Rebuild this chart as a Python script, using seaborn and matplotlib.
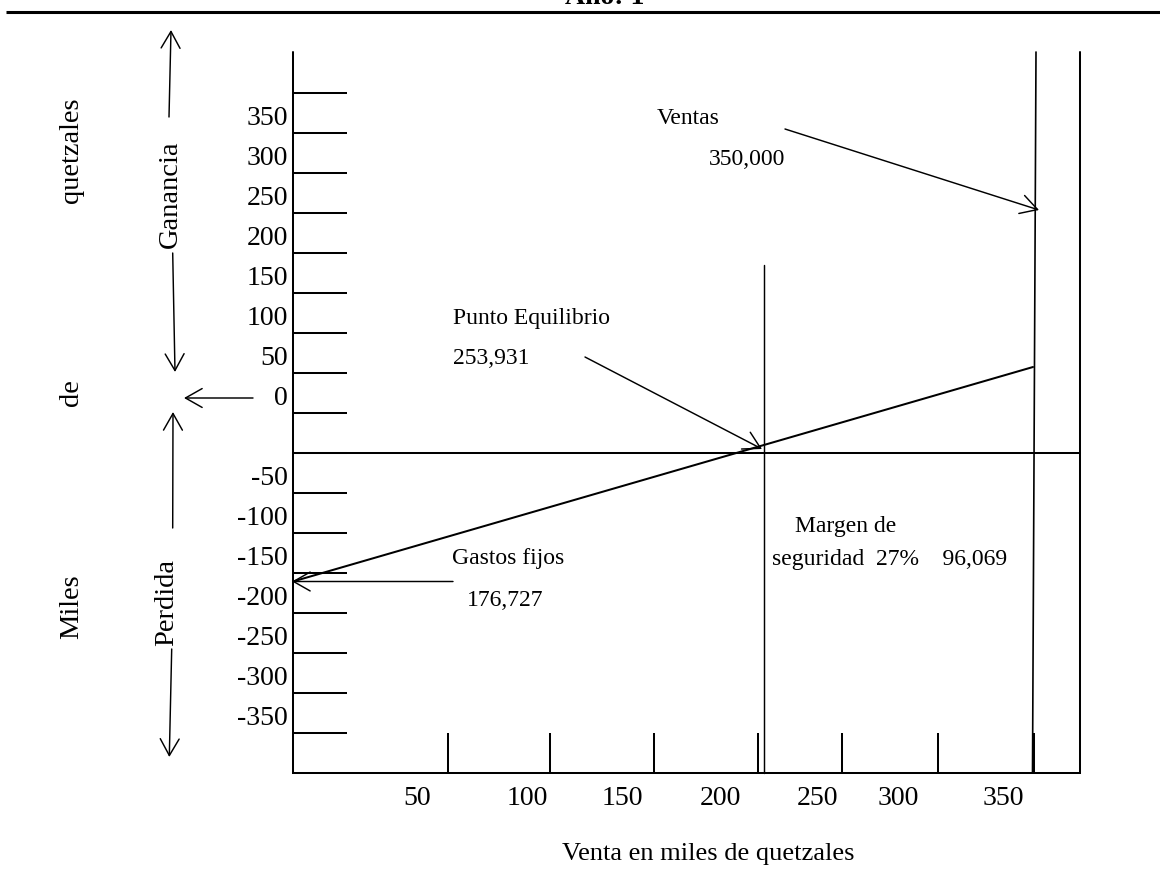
import matplotlib
matplotlib.use("Agg")
import matplotlib.pyplot as plt
import seaborn as sns
from matplotlib.patches import ArrowStyle

sns.set_theme(style="white")
plt.rcParams['font.family'] = ['Liberation Serif', 'DejaVu Serif']
plt.rcParams['text.color'] = 'black'

# ---------------- data ----------------
title = "Año: 1"
x_label = "Venta en miles de quetzales"
y_label_words = ["quetzales", "de", "Miles"]
gain_label = "Ganancia"
loss_label = "Perdida"
x_tick_values = [50, 100, 150, 200, 250, 300, 350]
y_tick_values_gain = [350, 300, 250, 200, 150, 100, 50, 0]
y_tick_values_loss = [-50, -100, -150, -200, -250, -300, -350]
sales = 350000
break_even = 253931
fixed_costs = 176727
safety_margin_pct = 27
safety_margin = 96069

# ---------------- layout (diagram units = pixels) ----------------
W, H = 1160, 888
F_LEFT, F_RIGHT, F_TOP, F_BOTTOM = 293, 1080, 52.5, 772.5
YTICK_FIRST, YTICK_STEP, YTICK_COUNT, YTICK_LEN = 93, 40, 17, 54
ZERO_Y = 453
XTICK_POS = [447.5, 549.5, 653.5, 758, 842, 938, 1033.5]
XTICK_LABEL_POS = [417, 527, 622, 720, 818, 898, 1003]
XTICK_TOP = 733
BE_X, BE_TOP = 764.3, 265
SALES_TOP = (1036, 52)
SALES_BOTTOM = (1032.5, 772.5)
PROFIT_X = [F_LEFT, 1033]
PROFIT_Y = [581.5, 367]

TICK_FS, ANN_FS, XLAB_FS, SIDE_FS = 20, 17, 19, 20.5
LW_FRAME, LW_THIN = 1.45, 1.05
K = 'black'

fig = plt.figure(figsize=(W / 100, H / 100), dpi=100)
ax = fig.add_axes([0, 0, 1, 1])
ax.set_xlim(0, W)
ax.set_ylim(H, 0)
ax.axis('off')


def arrow(start, tip, lw=LW_THIN):
    ax.annotate("", xy=tip, xytext=start,
                arrowprops=dict(arrowstyle=ArrowStyle("->", head_length=0.6, head_width=0.34),
                                mutation_scale=20, lw=lw, color=K,
                                shrinkA=0, shrinkB=0))


# top rule and title
ax.plot([6, W], [12, 12], color=K, lw=2.2, solid_capstyle='butt')
ax.text(605, 4, title, fontsize=20, fontweight='bold', ha='center', va='baseline', color=K)

# frame
ax.plot([F_LEFT, F_LEFT, F_RIGHT, F_RIGHT], [F_TOP, F_BOTTOM, F_BOTTOM, F_TOP - 0.5],
        color=K, lw=LW_FRAME, solid_joinstyle='miter')

# y ticks
ytick_pos = [YTICK_FIRST + YTICK_STEP * i for i in range(YTICK_COUNT)]
ax.hlines(ytick_pos, F_LEFT, F_LEFT + YTICK_LEN, color=K, lw=LW_FRAME)
# y tick labels (sit between tick marks)
for k, v in enumerate(y_tick_values_gain):
    ax.text(288, 125 + YTICK_STEP * k, f"{v}", fontsize=TICK_FS, ha='right', va='baseline', color=K)
for k, v in enumerate(y_tick_values_loss):
    ax.text(288, 485 + YTICK_STEP * k, f"{v}", fontsize=TICK_FS, ha='right', va='baseline', color=K)

# x ticks
ax.vlines(XTICK_POS, XTICK_TOP, F_BOTTOM, color=K, lw=LW_FRAME)
for xp, v in zip(XTICK_LABEL_POS, x_tick_values):
    ax.text(xp, 805, f"{v}", fontsize=TICK_FS, ha='center', va='baseline', color=K)

# zero-profit line, break-even vertical, sales vertical
ax.plot([F_LEFT, F_RIGHT], [ZERO_Y, ZERO_Y], color=K, lw=LW_FRAME)
ax.plot([BE_X, BE_X], [BE_TOP, F_BOTTOM], color=K, lw=LW_THIN)
ax.plot([SALES_TOP[0], SALES_BOTTOM[0]], [SALES_TOP[1], SALES_BOTTOM[1]], color=K, lw=1.2)

# profit line
sns.lineplot(x=PROFIT_X, y=PROFIT_Y, ax=ax, color=K, lw=LW_FRAME, sort=False)

# annotations
ax.text(657, 124, "Ventas", fontsize=ANN_FS, ha='left', va='baseline', color=K)
ax.text(709, 165, f"{sales:,}", fontsize=ANN_FS, ha='left', va='baseline', color=K)
arrow((785, 129), (1039, 210))

ax.text(453, 324, "Punto Equilibrio", fontsize=ANN_FS, ha='left', va='baseline', color=K)
ax.text(453, 364, f"{break_even:,}", fontsize=ANN_FS, ha='left', va='baseline', color=K)
arrow((585, 357), (762, 449))

ax.text(795, 531.5, "Margen de", fontsize=ANN_FS, ha='left', va='baseline', color=K)
ax.text(772, 564.5, f"seguridad  {safety_margin_pct}%    {safety_margin:,}",
        fontsize=ANN_FS, ha='left', va='baseline', color=K)

ax.text(452, 564, "Gastos fijos", fontsize=ANN_FS, ha='left', va='baseline', color=K)
ax.text(467, 606, f"{fixed_costs:,}", fontsize=ANN_FS, ha='left', va='baseline', color=K)
arrow((453, 581.5), (292, 581.5))

# left side labels
for word, yc in zip(y_label_words, [150, 393, 607]):
    ax.text(78, yc, word, fontsize=SIDE_FS, rotation=90, rotation_mode='anchor',
            ha='center', va='baseline', color=K)
ax.text(176.7, 194, gain_label, fontsize=SIDE_FS, rotation=90, rotation_mode='anchor',
        ha='center', va='baseline', color=K)
ax.text(173.3, 602, loss_label, fontsize=SIDE_FS, rotation=90, rotation_mode='anchor',
        ha='center', va='baseline', color=K)

arrow((169, 117), (171, 30))
arrow((172.7, 253), (175, 372))
arrow((172.7, 528), (173, 412))
arrow((171.7, 649), (169.3, 757))
arrow((253, 398), (184, 398))

# x label
ax.text(708, 860, x_label, fontsize=XLAB_FS, ha='center', va='baseline', color=K)

fig.savefig("out.png", dpi=100)
